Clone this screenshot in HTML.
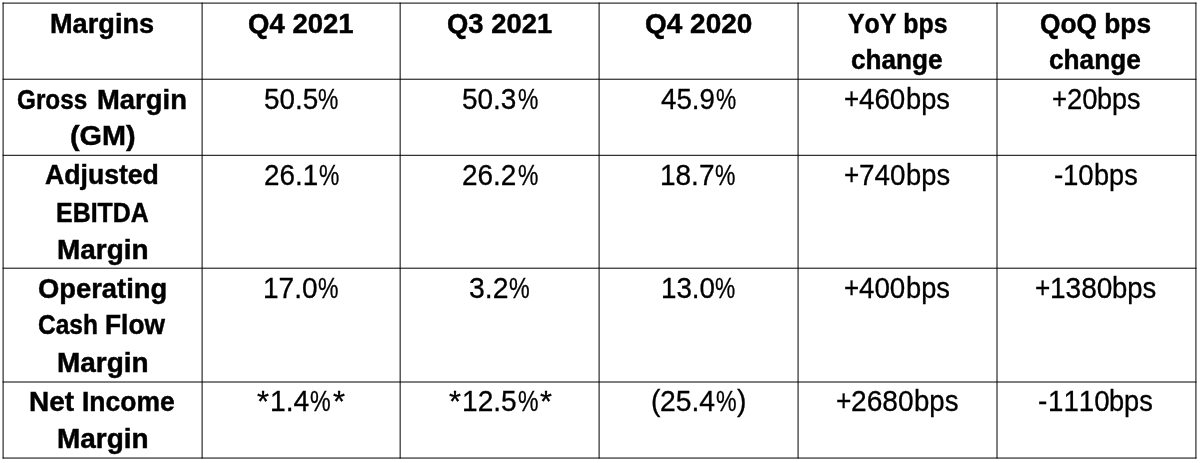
<!DOCTYPE html>
<html><head><meta charset="utf-8"><title>Margins</title>
<style>
html,body{margin:0;padding:0;background:#fff;}
body{width:1200px;height:463px;position:relative;overflow:hidden;font-family:"Liberation Sans",sans-serif;color:#000;}
svg{position:absolute;left:0;top:0;}
#txt{position:absolute;left:0;top:0;width:1200px;height:463px;filter:blur(0.35px);}
.t{position:absolute;white-space:nowrap;font-size:29.0px;line-height:40px;height:40px;transform-origin:0 0;font-kerning:none;-webkit-text-stroke:0.3px #000;}
.t span{position:absolute;top:0;white-space:nowrap;transform-origin:0 0;}
.b{font-weight:bold;font-size:27.2px;-webkit-text-stroke:0.45px #000;}
</style></head><body>
<svg width="1200" height="463" viewBox="0 0 1200 463" fill="none" stroke="#000" stroke-width="1.0">
<line x1="2.60" y1="3.10" x2="1196.43" y2="3.10"/>
<line x1="2.60" y1="79.22" x2="1196.43" y2="79.22"/>
<line x1="2.60" y1="155.30" x2="1196.43" y2="155.30"/>
<line x1="2.60" y1="268.20" x2="1196.43" y2="268.20"/>
<line x1="2.60" y1="382.00" x2="1196.43" y2="382.00"/>
<line x1="2.60" y1="458.06" x2="1196.43" y2="458.06"/>
<line x1="3.10" y1="2.60" x2="3.10" y2="458.56"/>
<line x1="202.10" y1="2.60" x2="202.10" y2="458.56"/>
<line x1="400.15" y1="2.60" x2="400.15" y2="458.56"/>
<line x1="599.10" y1="2.60" x2="599.10" y2="458.56"/>
<line x1="798.07" y1="2.60" x2="798.07" y2="458.56"/>
<line x1="997.00" y1="2.60" x2="997.00" y2="458.56"/>
<line x1="1195.93" y1="2.60" x2="1195.93" y2="458.56"/>
</svg>
<div id="txt">
<div class="t b" style="left:50.20px;top:4px;transform:scaleX(0.9989)">Margins</div>
<div class="t b" style="left:247.89px;top:4px;transform:scaleX(1.0128)">Q4 2021</div>
<div class="t b" style="left:447.29px;top:4px;transform:scaleX(1.0079)">Q3 2021</div>
<div class="t b" style="left:644.87px;top:4px;transform:scaleX(1.0295)">Q4 2020</div>
<div class="t b" style="left:847.90px;top:4px;transform:scaleX(0.9160)">YoY bps</div>
<div class="t b" style="left:850.64px;top:40px;transform:scaleX(0.9632)">change</div>
<div class="t b" style="left:1040.13px;top:4px;transform:scaleX(0.9674)">QoQ bps</div>
<div class="t b" style="left:1049.44px;top:40px;transform:scaleX(0.9643)">change</div>
<div class="t b" style="left:17.11px;top:80px"><span style="left:0.00px;transform:scaleX(0.8933)">Gross</span> <span style="left:80.08px;transform:scaleX(1.0091)">Margin</span></div>
<div class="t b" style="left:69.84px;top:116px;transform:scaleX(1.0593)">(GM)</div>
<div class="t" style="left:263.54px;top:79px"><span style="left:0.00px;transform:scaleX(0.9602)">50.5</span><span style="left:54.96px;transform:scaleX(0.7881)">%</span></div>
<div class="t" style="left:462.44px;top:79px"><span style="left:0.00px;transform:scaleX(0.9628)">50.3</span><span style="left:55.11px;transform:scaleX(0.7902)">%</span></div>
<div class="t" style="left:660.90px;top:79px"><span style="left:0.00px;transform:scaleX(0.9568)">45.9</span><span style="left:54.77px;transform:scaleX(0.7853)">%</span></div>
<div class="t" style="left:844.20px;top:79px"><span style="left:0.00px;transform:scaleX(0.8954)">+</span><span style="left:15.16px;transform:scaleX(0.9568)">460</span><span style="left:61.46px;transform:scaleX(0.9390)">bps</span></div>
<div class="t" style="left:1051.51px;top:79px"><span style="left:0.00px;transform:scaleX(0.8867)">+</span><span style="left:15.02px;transform:scaleX(0.9475)">20</span><span style="left:45.58px;transform:scaleX(0.9298)">bps</span></div>
<div class="t b" style="left:45.10px;top:155px;transform:scaleX(0.9791)">Adjusted</div>
<div class="t b" style="left:56.18px;top:193px;transform:scaleX(0.9170)">EBITDA</div>
<div class="t b" style="left:56.97px;top:230px;transform:scaleX(1.0288)">Margin</div>
<div class="t" style="left:263.64px;top:155px"><span style="left:0.00px;transform:scaleX(0.9602)">26.1</span><span style="left:54.96px;transform:scaleX(0.7881)">%</span></div>
<div class="t" style="left:462.44px;top:155px"><span style="left:0.00px;transform:scaleX(0.9628)">26.2</span><span style="left:55.11px;transform:scaleX(0.7902)">%</span></div>
<div class="t" style="left:660.27px;top:155px"><span style="left:0.00px;transform:scaleX(0.9649)">18.7</span><span style="left:55.23px;transform:scaleX(0.7920)">%</span></div>
<div class="t" style="left:844.10px;top:155px"><span style="left:0.00px;transform:scaleX(0.8980)">+</span><span style="left:15.21px;transform:scaleX(0.9596)">740</span><span style="left:61.64px;transform:scaleX(0.9417)">bps</span></div>
<div class="t" style="left:1054.04px;top:155px"><span style="left:0.00px;transform:scaleX(0.9611)">-</span><span style="left:9.28px;transform:scaleX(0.9527)">10</span><span style="left:40.01px;transform:scaleX(0.9349)">bps</span></div>
<div class="t b" style="left:37.79px;top:269px;transform:scaleX(1.0064)">Operating</div>
<div class="t b" style="left:38.20px;top:305px"><span style="left:0.00px;transform:scaleX(0.9018)">Cash</span> <span style="left:66.93px;transform:scaleX(0.9681)">Flow</span></div>
<div class="t b" style="left:56.97px;top:343px;transform:scaleX(1.0288)">Margin</div>
<div class="t" style="left:263.06px;top:268px"><span style="left:0.00px;transform:scaleX(0.9676)">17.0</span><span style="left:55.38px;transform:scaleX(0.7941)">%</span></div>
<div class="t" style="left:469.02px;top:268px"><span style="left:0.00px;transform:scaleX(0.9780)">3.2</span><span style="left:40.21px;transform:scaleX(0.8029)">%</span></div>
<div class="t" style="left:660.59px;top:268px"><span style="left:0.00px;transform:scaleX(0.9570)">13.0</span><span style="left:54.78px;transform:scaleX(0.7855)">%</span></div>
<div class="t" style="left:844.10px;top:268px"><span style="left:0.00px;transform:scaleX(0.8954)">+</span><span style="left:15.16px;transform:scaleX(0.9568)">400</span><span style="left:61.46px;transform:scaleX(0.9390)">bps</span></div>
<div class="t" style="left:1034.90px;top:268px"><span style="left:0.00px;transform:scaleX(0.9034)">+</span><span style="left:15.30px;transform:scaleX(0.9654)">1380</span><span style="left:77.58px;transform:scaleX(0.9474)">bps</span></div>
<div class="t b" style="left:28.97px;top:382px"><span style="left:0.00px;transform:scaleX(1.0291)">Net</span> <span style="left:53.16px;transform:scaleX(0.9738)">Income</span></div>
<div class="t b" style="left:56.97px;top:419px;transform:scaleX(1.0288)">Margin</div>
<div class="t" style="left:256.36px;top:381px"><span style="left:0.94px;transform:scaleX(1.0656)">*</span><span style="left:13.90px;transform:scaleX(0.9762)">1.4</span><span style="left:54.04px;transform:scaleX(0.8014)">%</span><span style="left:76.42px;transform:scaleX(1.0656)">*</span></div>
<div class="t" style="left:448.37px;top:381px"><span style="left:0.93px;transform:scaleX(1.0578)">*</span><span style="left:13.80px;transform:scaleX(0.9692)">12.5</span><span style="left:69.28px;transform:scaleX(0.7955)">%</span><span style="left:91.50px;transform:scaleX(1.0578)">*</span></div>
<div class="t" style="left:650.62px;top:381px"><span style="left:0.00px;transform:scaleX(0.9751)">(</span><span style="left:9.42px;transform:scaleX(0.9755)">25.4</span><span style="left:65.25px;transform:scaleX(0.8007)">%</span><span style="left:86.67px;transform:scaleX(0.9751)">)</span></div>
<div class="t" style="left:835.69px;top:381px"><span style="left:0.00px;transform:scaleX(0.9079)">+</span><span style="left:15.38px;transform:scaleX(0.9702)">2680</span><span style="left:77.97px;transform:scaleX(0.9521)">bps</span></div>
<div class="t" style="left:1038.24px;top:381px"><span style="left:0.00px;transform:scaleX(0.9634)">-</span><span style="left:9.30px;transform:scaleX(0.9550)">1110</span><span style="left:70.91px;transform:scaleX(0.9372)">bps</span></div>
</div>
</body></html>
